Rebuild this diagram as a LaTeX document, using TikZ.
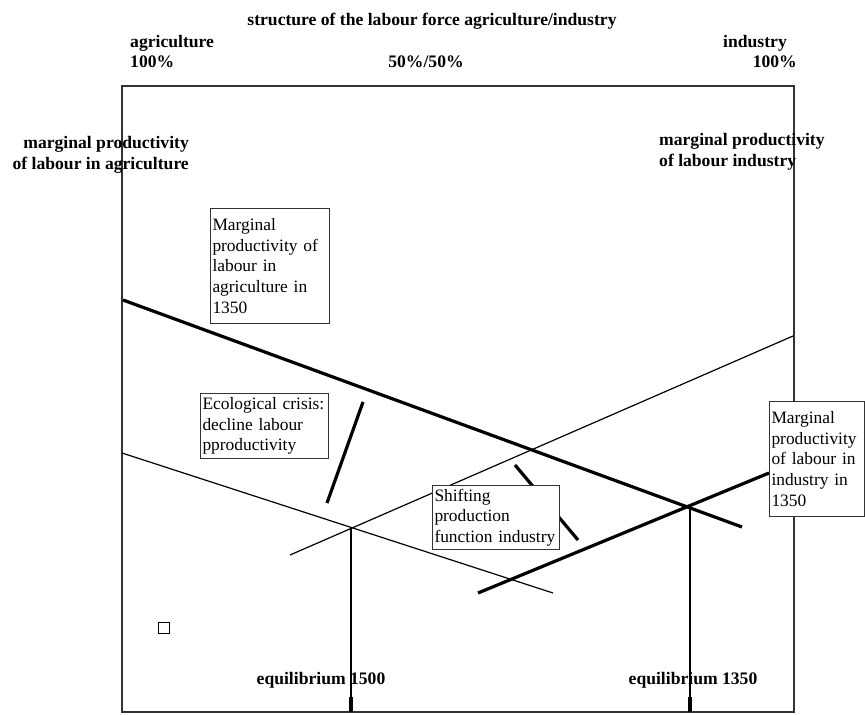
\documentclass[tikz,border=0pt]{standalone}
\usepackage{fontspec}
\setmainfont{Liberation Serif}
\hyphenpenalty=10000
\begin{document}
\begin{tikzpicture}[x=1pt,y=1pt,yscale=-1,
	lbl/.style={font=\fontsize{17.6}{20.5}\selectfont\bfseries, inner sep=0pt},
	note/.style={draw=black!80, line width=1pt, fill=white, align=left, anchor=north west, inner xsep=2pt, font=\fontsize{17.4}{20.8}\selectfont},
	fineline/.style={line width=1.2pt},
	heavyline/.style={line width=3.2pt}]
		\useasboundingbox (0,0) rectangle (865,715);
		\coordinate (frameNW) at (122,86);
		\coordinate (frameSE) at (794,712);
		\draw [draw=black!80, line width=1.5pt] (frameNW) rectangle (frameSE);
		\coordinate (agA) at (123,300);
		\coordinate (agB) at (742,527);
		\coordinate (agC) at (122,453);
		\coordinate (agD) at (553,593);
		\coordinate (inA) at (290,555);
		\coordinate (inB) at (793,336);
		\coordinate (inC) at (478,593);
		\coordinate (inD) at (769,473);
		\coordinate (ecoA) at (363,402);
		\coordinate (ecoB) at (327,503);
		\coordinate (shA) at (515,465);
		\coordinate (shB) at (578,540);
		\coordinate (eqA) at (351,529);
		\coordinate (eqAbot) at (351,712);
		\coordinate (eqAtick) at (351,697);
		\coordinate (eqB) at (690,507);
		\coordinate (eqBbot) at (690,712);
		\coordinate (eqBtick) at (690,697);
		\draw [heavyline] (agA) -- (agB);
		\draw [fineline] (agC) -- (agD);
		\draw [fineline] (inA) -- (inB);
		\draw [heavyline] (inC) -- (inD);
		\draw [heavyline] (ecoA) -- (ecoB);
		\draw [heavyline] (shA) -- (shB);
		\draw [fineline] (eqA) -- (eqAbot);
		\draw [heavyline] (eqAtick) -- (eqAbot);
		\draw [fineline] (eqB) -- (eqBbot);
		\draw [heavyline] (eqBtick) -- (eqBbot);
		\draw [line width=1pt] (158,622) rectangle (169,633);
		\node (agri1350) [note, text width=115pt, minimum height=115pt] at (210,208) {Marginal\\productivity of\\labour in\\agriculture in\\1350};
		\node (eco) [note, text width=124pt, minimum height=65pt] at (200,393) {Ecological crisis:\\decline labour\\pproductivity};
		\node (shift) [note, text width=123pt, minimum height=64pt] at (432,485) {Shifting\\production\\function industry};
		\node (ind1350) [note, text width=91pt, minimum height=115pt] at (769,401) {Marginal\\productivity\\of labour in\\industry in\\1350};
		\node (title) [lbl] at (432,21) {structure of the labour force agriculture/industry};
		\node (agri) [lbl, anchor=west] at (130,43) {agriculture};
		\node (agri100) [lbl, anchor=west] at (130,62) {100\%};
		\node (half) [lbl] at (426,62) {50\%/50\%};
		\node (ind) [lbl, anchor=east] at (787,43) {industry};
		\node (ind100) [lbl, anchor=east] at (797,62) {100\%};
		\node (mpagri) [lbl, anchor=east, align=right] at (189,155) {marginal productivity\\of labour in agriculture};
		\node (mpind) [lbl, anchor=west, align=left] at (659,152) {marginal productivity\\of labour industry};
		\node (eq1500) [lbl] at (321,680) {equilibrium 1500};
		\node (eq1350) [lbl] at (693,680) {equilibrium 1350};
\end{tikzpicture}
\end{document}
